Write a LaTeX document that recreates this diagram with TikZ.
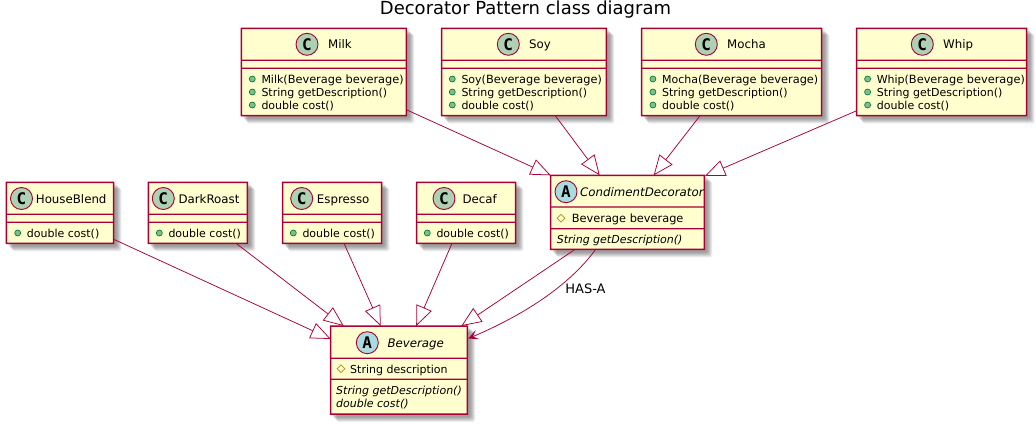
\documentclass[tikz,border=0pt]{standalone}
\usepackage{fontspec}
\setmainfont{DejaVu Sans}
\newfontfamily\circfont{DejaVu Sans Mono}
\usetikzlibrary{arrows.meta,calc,shapes.geometric}
\definecolor{umlline}{HTML}{A80036}
\definecolor{umlfill}{HTML}{FEFECE}
\definecolor{ccirc}{HTML}{ADD1B2}
\definecolor{acirc}{HTML}{A9DCDF}
\definecolor{pubfill}{HTML}{84BE84}
\definecolor{publine}{HTML}{038048}
\definecolor{protline}{HTML}{B38D22}
\tikzset{
 x=1pt,y=-1pt,
 umlbox/.style={fill=umlfill,inner sep=0pt,outer sep=0pt},
 circnode/.style={circle,draw=umlline,line width=.9pt,minimum size=22pt,inner sep=0pt,font=\circfont\bfseries\fontsize{16}{16}\selectfont},
 cname/.style={anchor=base west,inner sep=0pt,font=\fontsize{11.8}{14}\selectfont},
 aname/.style={cname,font=\fontsize{11.8}{14}\selectfont\itshape},
 mem/.style={anchor=base west,inner sep=0pt,font=\fontsize{11}{13}\selectfont},
 amem/.style={mem,font=\fontsize{11}{13}\selectfont\itshape},
 pubdot/.style={circle,draw=publine,fill=pubfill,line width=.7pt,minimum size=6pt,inner sep=0pt},
 protdot/.style={diamond,draw=protline,line width=.7pt,minimum size=8pt,inner sep=0pt},
 inherit/.style={draw=umlline,line width=.75pt,-{Triangle[open,fill=white,length=20pt,width=16.5pt]}},
 hasa/.style={draw=umlline,line width=.75pt,-{Stealth[length=10pt,width=10pt,inset=5pt]}},
}
\newcommand{\bb}[1]{{\fontsize{11.35}{13}\selectfont #1}}
% name x1 y1 x2 y2 sep1 sep2
\newcommand{\umlclass}[7]{%
 \foreach \o in {8,7.5,7,6.5,6,5.5,5,4.5,4,3.5,3}{
  \fill[black,opacity=.04,rounded corners=2pt] (#2+\o-1.5,#3+\o-1.5) rectangle (#4+\o,#5+\o);
 }
 \pgfmathsetmacro\bw{#4-#2}\pgfmathsetmacro\bh{#5-#3}
 \node[umlbox,rectangle,minimum width=\bw pt,minimum height=\bh pt] (#1) at ({(#2+#4)/2},{(#3+#5)/2}) {};
 \fill[umlline,even odd rule] (#2-.75,#3-.75) rectangle (#4+.75,#5+.75) (#2+.75,#3+.75) rectangle (#4-.75,#5-.75);
 \fill[umlline] (#2,#6-.6) rectangle (#4,#6+.6) (#2,#7-.6) rectangle (#4,#7+.6);
}
\newcommand{\pubm}[4]{\node[pubdot] (#1d) at (#2,#3) {}; \node[mem] (#1t) at (#2+9,#3+4) {#4};}
\begin{document}
\begin{tikzpicture}
\useasboundingbox (0,0) rectangle (1036,423);
\fill[white] (0,0) rectangle (1036,423);
\node[inner sep=0pt,font=\fontsize{18}{20}\selectfont] (title) at (525.5,10) {Decorator Pattern class diagram};

\umlclass{milk}{241.3}{28.3}{406.3}{115.7}{60.3}{68.3}
\umlclass{soy}{441.7}{28.3}{606.3}{115.7}{60.3}{68.3}
\umlclass{mocha}{641.7}{28.3}{821.7}{115.7}{60.3}{68.3}
\umlclass{whip}{856.7}{28.3}{1026.7}{115.7}{60.3}{68.3}
\umlclass{house}{6.3}{182.3}{113.7}{243.3}{214.3}{222.3}
\umlclass{dark}{148.3}{182.3}{247.3}{243.3}{214.3}{222.3}
\umlclass{esp}{282.7}{182.3}{381.7}{243.3}{214.3}{222.3}
\umlclass{decaf}{416.7}{182.3}{515.7}{243.3}{214.3}{222.3}
\umlclass{cd}{550.7}{175.3}{704.3}{249.3}{207}{228.7}
\umlclass{bev}{330.7}{326}{467.3}{414}{358.3}{379.3}

% connectors
\draw[inherit] ([shift={(0,-6)}]milk.south east) -- (cd.north west);
\draw[inherit] ([shift={(-51,0)}]soy.south east) -- ([shift={(49,0)}]cd.north west);
\draw[inherit] ([shift={(58.3,0)}]mocha.south west) -- ([shift={(103,0)}]cd.north west);
\draw[inherit] ([shift={(0,-5)}]whip.south west) -- ([shift={(0.7,0.7)}]cd.north east);
\draw[inherit] ([shift={(0,-4)}]house.south east) -- ([shift={(0,13)}]bev.north west);
\draw[inherit] ([shift={(87.7,0)}]dark.south west) -- ([shift={(13,0)}]bev.north west);
\draw[inherit] ([shift={(61.3,0)}]esp.south west) -- ([shift={(50,0)}]bev.north west);
\draw[inherit] ([shift={(35.3,0)}]decaf.south west) -- ([shift={(85.5,0)}]bev.north west);
\draw[inherit] ([shift={(24.5,0)}]cd.south west) -- ([shift={(-6,0)}]bev.north east);
\draw[hasa] ([shift={(45,0)}]cd.south west) .. controls +(-27.7,38) and +(52,-22) .. ([shift={(1,12.5)}]bev.north east);
\node[inner sep=0pt,font=\fontsize{13}{15}\selectfont] (hasalabel) at (585.5,289) {HAS-A};

% top classes
\node[circnode,fill=ccirc] (milkc) at (307,44.3) {C};
\node[cname] (milkn) at (328,48.5) {Milk};
\pubm{milk1}{252.3}{79}{Milk(\bb{Beverage beverage})}
\pubm{milk2}{252.3}{92}{String getDescription()}
\pubm{milk3}{252.3}{105}{double cost()}

\node[circnode,fill=ccirc] (soyc) at (508.3,44.3) {C};
\node[cname] (soyn) at (529,48.5) {Soy};
\pubm{soy1}{452.3}{79}{Soy(\bb{Beverage beverage})}
\pubm{soy2}{452.3}{92}{String getDescription()}
\pubm{soy3}{452.3}{105}{double cost()}

\node[circnode,fill=ccirc] (mochac) at (706.3,44.3) {C};
\node[cname] (mochan) at (727,48.5) {Mocha};
\pubm{mocha1}{652.9}{79}{Mocha(\bb{Beverage beverage})}
\pubm{mocha2}{652.9}{92}{String getDescription()}
\pubm{mocha3}{652.9}{105}{double cost()}

\node[circnode,fill=ccirc] (whipc) at (922.3,44.3) {C};
\node[cname] (whipn) at (943,48.5) {Whip};
\pubm{whip1}{867.6}{79}{Whip(\bb{Beverage beverage})}
\pubm{whip2}{867.6}{92}{String getDescription()}
\pubm{whip3}{867.6}{105}{double cost()}

% lower classes
\node[circnode,fill=ccirc] (housec) at (21.5,198.5) {C};
\node[cname] (housen) at (35.7,203) {HouseBlend};
\pubm{house1}{17.7}{233}{double cost()}

\node[circnode,fill=ccirc] (darkc) at (163.3,198.5) {C};
\node[cname] (darkn) at (178.3,203) {DarkRoast};
\pubm{dark1}{159.3}{233}{double cost()}

\node[circnode,fill=ccirc] (espc) at (301.7,198.5) {C};
\node[cname] (espn) at (316.7,203) {Espresso};
\pubm{esp1}{293.3}{233}{double cost()}

\node[circnode,fill=ccirc] (decafc) at (444,198.5) {C};
\node[cname] (decafn) at (462.3,203) {Decaf};
\pubm{decaf1}{427.3}{233}{double cost()}

% abstract classes
\node[circnode,fill=acirc] (cdc) at (566,191.7) {A};
\node[aname] (cdn) at (580,196) {CondimentDecorator};
\node[protdot] (cd1d) at (561,218.3) {};
\node[mem] (cd1t) at (571.7,222) {\bb{Beverage beverage}};
\node[amem] (cd2t) at (556.7,243) {String getDescription()};

\node[circnode,fill=acirc] (bevc) at (367.3,342.7) {A};
\node[aname] (bevn) at (387.3,347.5) {Beverage};
\node[protdot] (bev1d) at (341,368.7) {};
\node[mem] (bev1t) at (350,373) {String description};
\node[amem] (bev2t) at (336,394) {String getDescription()};
\node[amem] (bev3t) at (336,407) {double cost()};
\end{tikzpicture}
\end{document}
